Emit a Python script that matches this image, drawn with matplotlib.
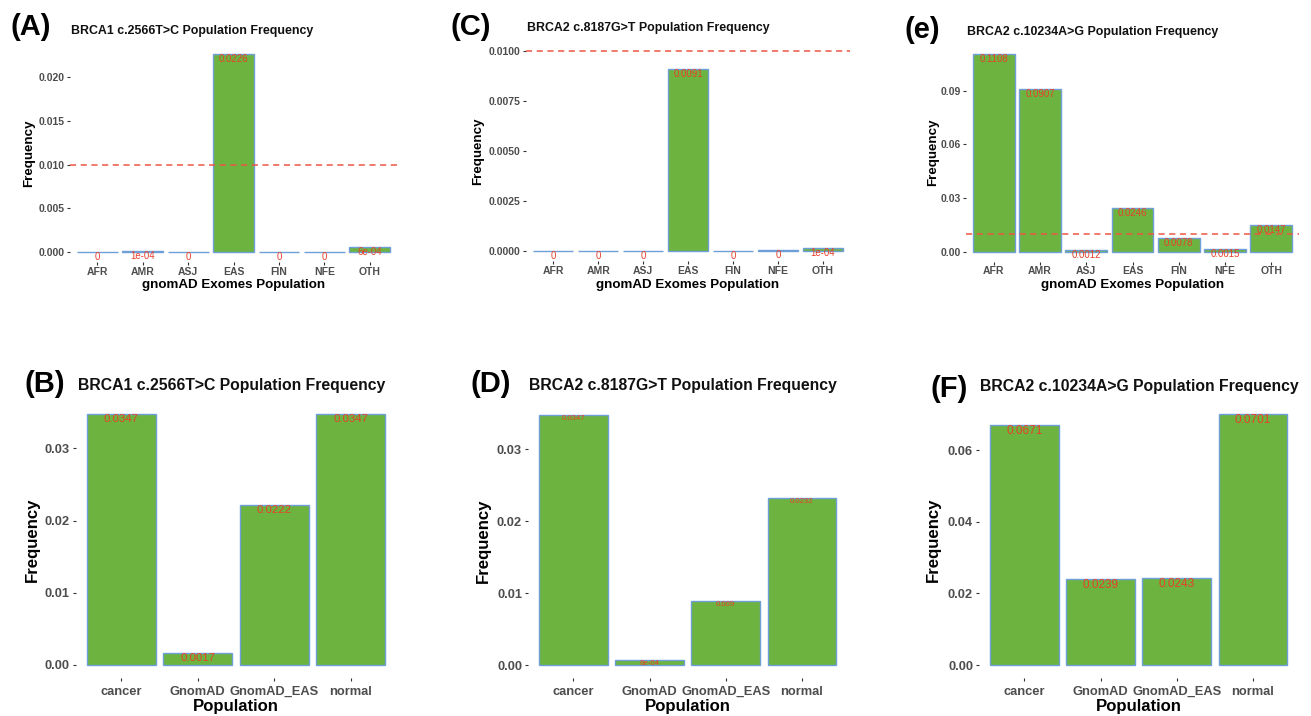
import matplotlib
matplotlib.use("Agg")
import matplotlib.pyplot as plt

plt.rcParams['font.family'] = ['Liberation Sans', 'DejaVu Sans']

# ---------------- data ----------------
pop_gnomad = ["AFR", "AMR", "ASJ", "EAS", "FIN", "NFE", "OTH"]
freq_A = [0, 0.0001, 0, 0.0226, 0, 0, 0.0006]
freq_C = [0, 0, 0, 0.0091, 0, 0.00003, 0.00014]
freq_e = [0.1108, 0.0907, 0.0012, 0.0246, 0.0078, 0.0015, 0.0147]

pop_groups = ["cancer", "GnomAD", "GnomAD_EAS", "normal"]
freq_B = [0.0347, 0.0017, 0.0222, 0.0347]
freq_D = [0.0347, 0.0008, 0.0090, 0.0232]
freq_F = [0.0671, 0.0239, 0.0243, 0.0701]

ticks_A = [0.000, 0.005, 0.010, 0.015, 0.020]
ticks_C = [0.0000, 0.0025, 0.0050, 0.0075, 0.0100]
ticks_e = [0.00, 0.03, 0.06, 0.09]
ticks_B = [0.00, 0.01, 0.02, 0.03]
ticks_D = [0.00, 0.01, 0.02, 0.03]
ticks_F = [0.00, 0.02, 0.04, 0.06]

threshold = 0.01

titles = {
    "A": "BRCA1 c.2566T>C Population Frequency",
    "C": "BRCA2 c.8187G>T Population Frequency",
    "e": "BRCA2 c.10234A>G Population Frequency",
    "B": "BRCA1 c.2566T>C Population Frequency",
    "D": "BRCA2 c.8187G>T Population Frequency",
    "F": "BRCA2 c.10234A>G Population Frequency",
}

# ---------------- style ----------------
FILL = "#6DB33F"
EDGE = "#6F9FD8"
LABEL_RED = "#E8402C"
HLINE = "#EE5545"
TICK_GRAY = "#4D4D4D"

W, H = 1311, 716
fig = plt.figure(figsize=(W / 100, H / 100), dpi=100)
fig.patch.set_facecolor("white")

def r_label(v):
    r = round(v, 4)
    if r == 0:
        return "0"
    if r < 0.001:
        return "%.0e" % r
    s = ("%.4f" % r).rstrip("0")
    return s

# pixel layout: (left, right, top, bottom)
panels = [
    dict(key="A", cats=pop_gnomad, vals=freq_A, ticks=ticks_A, fmt="%.3f", hline=True, top=True,
         box=(70.2, 397, 44.4, 261.9), title_xy=(70.7, 31), letter="(A)", letter_xy=(10, 27),
         ylab_x=29, xlab_y=285, lab_fs=6.9),
    dict(key="C", cats=pop_gnomad, vals=freq_C, ticks=ticks_C, fmt="%.4f", hline=True, top=True,
         box=(526.3, 849.7, 41, 261), title_xy=(526.7, 28), letter="(C)", letter_xy=(450, 27),
         ylab_x=478, xlab_y=285, lab_fs=6.9),
    dict(key="e", cats=pop_gnomad, vals=freq_e, ticks=ticks_e, fmt="%.2f", hline=True, top=True,
         box=(966, 1299, 43.6, 261.6), title_xy=(967.3, 32), letter="(e)", letter_xy=(905, 30),
         ylab_x=933, xlab_y=285, lab_fs=6.9),
    dict(key="B", cats=pop_groups, vals=freq_B, ticks=ticks_B, fmt="%.2f", hline=False, top=False,
         box=(75.5, 396.5, 401.9, 677.5), title_xy=(78, 386), letter="(B)", letter_xy=(25, 384),
         ylab_x=32, xlab_y=707, lab_fs=8.2),
    dict(key="D", cats=pop_groups, vals=freq_D, ticks=ticks_D, fmt="%.2f", hline=False, top=False,
         box=(527.6, 847.6, 403, 677.8), title_xy=(529, 386), letter="(D)", letter_xy=(470, 384),
         ylab_x=483, xlab_y=707, lab_fs=5.6),
    dict(key="F", cats=pop_groups, vals=freq_F, ticks=ticks_F, fmt="%.2f", hline=False, top=False,
         box=(978.6, 1298.6, 401.3, 677.6), title_xy=(980, 386), letter="(F)", letter_xy=(930, 389),
         ylab_x=933, xlab_y=707, lab_fs=8.5),
]

for p in panels:
    L, R, T, B = p["box"]
    ax = fig.add_axes([L / W, 1 - B / H, (R - L) / W, (B - T) / H])
    ax.set_facecolor("white")
    n = len(p["cats"])
    xs = list(range(1, n + 1))
    ax.bar(xs, p["vals"], width=0.9, color=FILL, edgecolor=EDGE, linewidth=1.0, zorder=2)
    for x, v in zip(xs, p["vals"]):
        ax.text(x, v, r_label(v), ha="center", va="top", color=LABEL_RED,
                fontsize=p["lab_fs"], zorder=4)
    top_val = max(p["vals"])
    if p["hline"]:
        top_val = max(top_val, threshold)
        ax.axhline(threshold, color=HLINE, linewidth=1.1, linestyle=(0, (4, 3)), zorder=3)
    ax.set_xlim(0.4, n + 0.6)
    ax.set_ylim(-0.05 * top_val, 1.05 * top_val)
    ax.set_xticks(xs)
    ax.set_xticklabels(p["cats"])
    ax.set_yticks(p["ticks"])
    ax.set_yticklabels([p["fmt"] % t for t in p["ticks"]])
    for s in ax.spines.values():
        s.set_visible(False)

    if p["top"]:
        tfs, tick_fs, axfs, xpad = 8.9, 7.5, 9.6, 6.6
    else:
        tfs, tick_fs, axfs, xpad = 11.3, 9.25, 12.1, 9.8
    ax.tick_params(axis="both", length=2.5, width=0.8, color="#333333",
                   labelcolor=TICK_GRAY, labelsize=tick_fs, pad=1.5)
    ax.tick_params(axis="x", pad=xpad)
    for lab in ax.get_xticklabels():
        lab.set_fontweight("bold")
        lab.set_va("baseline")
    for lab in ax.get_yticklabels():
        lab.set_fontweight("bold")

    # axis titles
    ax.set_ylabel("Frequency", fontsize=axfs, fontweight="bold", color="black", va="center")
    ax.yaxis.set_label_coords((p["ylab_x"] - L) / (R - L), 0.5)
    xlab = "gnomAD Exomes Population" if p["top"] else "Population"
    ax.set_xlabel(xlab, fontsize=axfs, fontweight="bold", color="black", va="center")
    ax.xaxis.set_label_coords(0.5, (B - p["xlab_y"]) / (B - T))

    # title
    tx, ty = p["title_xy"]
    ax.set_title(titles[p["key"]], loc="left", fontsize=tfs, fontweight="bold",
                 color="#111111", x=(tx - L) / (R - L), y=(B - ty) / (B - T),
                 va="center", pad=0)

    # panel letter
    lx, ly = p["letter_xy"]
    fig.text(lx / W, 1 - ly / H, p["letter"], fontsize=21, fontweight="bold",
             ha="left", va="center", color="black")

fig.savefig("out.png", dpi=100, facecolor="white")
